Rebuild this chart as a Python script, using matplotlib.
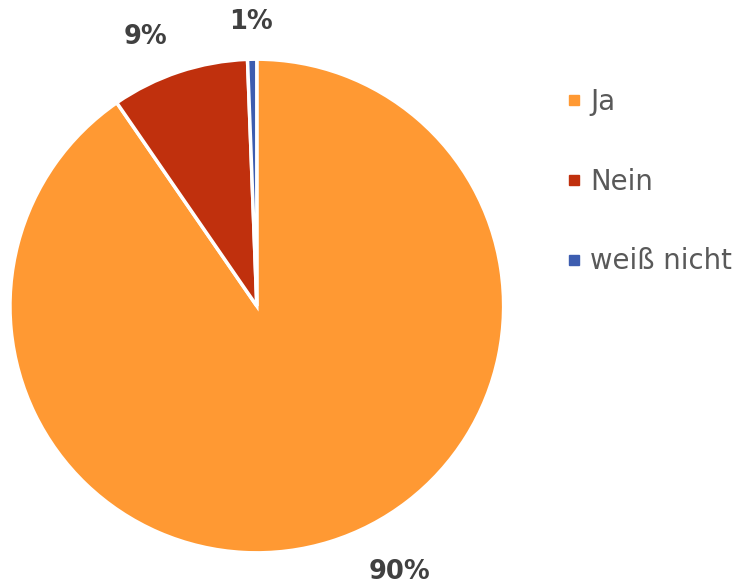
import matplotlib
matplotlib.use('Agg')
import matplotlib.pyplot as plt
from matplotlib.lines import Line2D

categories = ['Ja', 'Nein', 'weiß nicht']
values = [90.4, 9.0, 0.6]
colors = ['#FF9933', '#C0300D', '#3D5DB0']

pct_labels = ['%d%%' % round(v / sum(values) * 100) for v in values]

fig = plt.figure(figsize=(7.39, 5.84), dpi=100)
ax = fig.add_axes([0.0135, 0.053, 0.668, 0.846])

wedges, texts = ax.pie(values, colors=colors, labels=pct_labels, startangle=90,
                       counterclock=False, labeldistance=1.12,
                       wedgeprops=dict(edgecolor='white', linewidth=2.5),
                       textprops=dict(fontsize=18.5, fontweight='bold', color='#404040'))
ax.set_xlim(-1, 1)
ax.set_ylim(-1, 1)

# Excel-like label placement
label_pos = [(0.58, -1.077), (-0.449, 1.089), (-0.024, 1.15)]
for t, p in zip(texts, label_pos):
    t.set_position(p)
    t.set_ha('center')
    t.set_va('center')

handles = [Line2D([], [], marker='s', linestyle='none', markersize=7,
                  markerfacecolor=c, markeredgecolor=c) for c in colors]
fig.legend(handles, categories, loc='center left', bbox_to_anchor=(0.765, 0.689),
           frameon=False, fontsize=19.8, labelcolor='#595959', labelspacing=1.88,
           handlelength=0.6, handletextpad=0.3, borderpad=0, borderaxespad=0)

fig.savefig('out.png', dpi=100)
